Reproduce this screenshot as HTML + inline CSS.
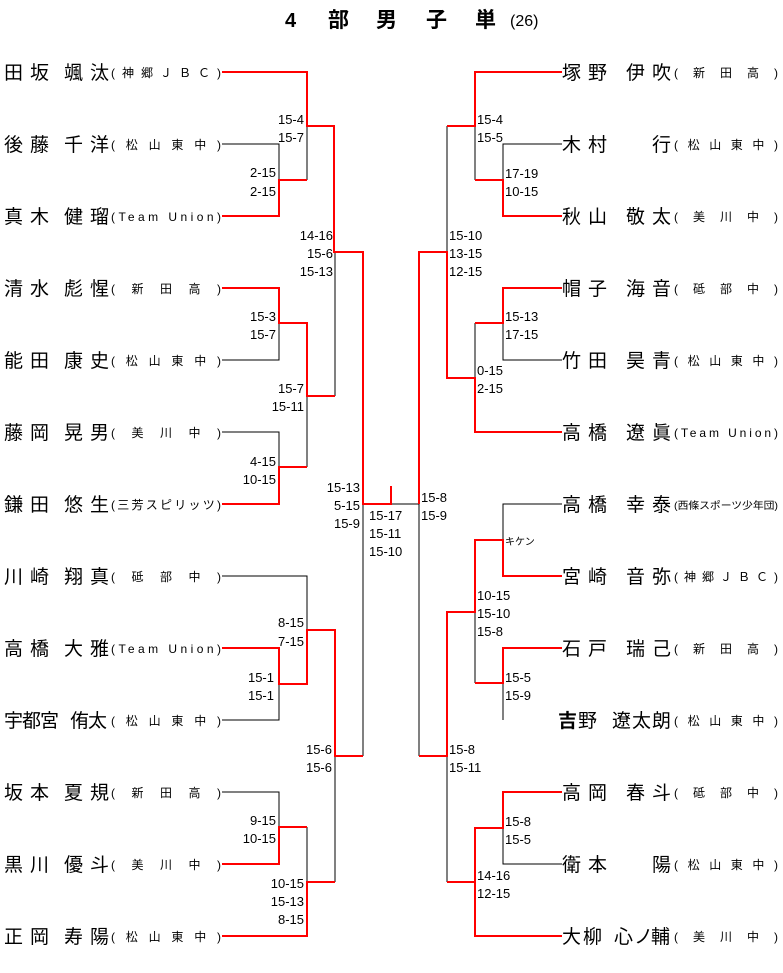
<!DOCTYPE html>
<html><head><meta charset="utf-8"><style>
html,body{margin:0;padding:0;background:#fff;}
svg{display:block;}
.n{font-family:"Liberation Sans","Noto Sans CJK JP",sans-serif;font-size:19px;fill:#000;}
.a{font-family:"Liberation Sans","Noto Sans CJK JP",sans-serif;font-size:12px;fill:#000;}
.s{font-family:"Liberation Sans","Noto Sans CJK JP",sans-serif;font-size:13px;fill:#000;}
.r{fill:none;stroke:#f00;stroke-width:2;}
.b{fill:none;stroke:#000;stroke-width:1;}
</style></head><body>
<svg width="783" height="973" viewBox="0 0 783 973" xmlns="http://www.w3.org/2000/svg">
<text x="285" y="27" style="font-family:'Liberation Sans','Noto Sans CJK JP',sans-serif;font-size:20px;font-weight:bold">4</text>
<text x="328" y="27" style="font-family:'Liberation Sans','Noto Sans CJK JP',sans-serif;font-size:21px;font-weight:bold">部</text>
<text x="376" y="27" style="font-family:'Liberation Sans','Noto Sans CJK JP',sans-serif;font-size:21px;font-weight:bold">男</text>
<text x="426" y="27" style="font-family:'Liberation Sans','Noto Sans CJK JP',sans-serif;font-size:21px;font-weight:bold">子</text>
<text x="475" y="27" style="font-family:'Liberation Sans','Noto Sans CJK JP',sans-serif;font-size:21px;font-weight:bold">単</text>
<text x="510" y="26" style="font-family:'Liberation Sans','Noto Sans CJK JP',sans-serif;font-size:16px">(26)</text>

<path class="b" d="M222,144H279V180M307,126V180M222,360H279V323M335,396V252M222,432H279V467M307,467V396"/>
<path class="b" d="M391,504H419M363,504V756M419,504V756"/>
<path class="b" d="M222,576H307V630M222,720H279V684M222,792H279V827M307,827V882M335,882V756"/>
<path class="r" d="M222,72H307V126H334V252H363V504H391V486"/>
<path class="r" d="M222,216H279V180H307"/>
<path class="r" d="M222,288H279V323H307V396H335"/>
<path class="r" d="M222,504H279V467H307"/>
<path class="r" d="M222,648H279V684H307V630H335V756H363"/>
<path class="r" d="M222,864H279V827H307"/>
<path class="r" d="M222,936H307V882H335"/>

<path class="b" d="M447,126V252M562,144H503V180M475,126V180M562,360H503V323M475,323V378"/>
<path class="b" d="M562,504H503V540M475,612V683M503,683V720M447,756V882M503,828V864H562"/>
<path class="r" d="M562,72H475V126H447"/>
<path class="r" d="M562,216H503V180H475"/>
<path class="r" d="M562,288H503V323H475"/>
<path class="r" d="M562,432H475V378H447V252H419V504"/>
<path class="r" d="M419,756H447V612H475V540H503V576H562"/>
<path class="r" d="M475,683H503V648H562"/>
<path class="r" d="M447,882H475V936H562"/>
<path class="r" d="M475,882V828H503V792H562"/>

<g class="s" text-anchor="end">
<text x="304" y="124">15-4</text><text x="304" y="142">15-7</text>
<text x="276" y="177">2-15</text><text x="276" y="196">2-15</text>
<text x="333" y="240">14-16</text><text x="333" y="258">15-6</text><text x="333" y="276">15-13</text>
<text x="276" y="321">15-3</text><text x="276" y="339">15-7</text>
<text x="304" y="393">15-7</text><text x="304" y="411">15-11</text>
<text x="276" y="466">4-15</text><text x="276" y="484">10-15</text>
<text x="360" y="492">15-13</text><text x="360" y="510">5-15</text><text x="360" y="528">15-9</text>
<text x="304" y="627">8-15</text><text x="304" y="646">7-15</text>
<text x="274" y="682">15-1</text><text x="274" y="700">15-1</text>
<text x="332" y="754">15-6</text><text x="332" y="772">15-6</text>
<text x="276" y="825">9-15</text><text x="276" y="843">10-15</text>
<text x="304" y="888">10-15</text><text x="304" y="906">15-13</text><text x="304" y="924">8-15</text>
</g>
<g class="s">
<text x="369" y="520">15-17</text><text x="369" y="538">15-11</text><text x="369" y="556">15-10</text>
<text x="421" y="502">15-8</text><text x="421" y="520">15-9</text>
<text x="477" y="124">15-4</text><text x="477" y="142">15-5</text>
<text x="505" y="178">17-19</text><text x="505" y="196">10-15</text>
<text x="449" y="240">15-10</text><text x="449" y="258">13-15</text><text x="449" y="276">12-15</text>
<text x="505" y="321">15-13</text><text x="505" y="339">17-15</text>
<text x="477" y="375">0-15</text><text x="477" y="393">2-15</text>
<text x="505" y="545" style="font-size:10px">キケン</text>
<text x="477" y="600">10-15</text><text x="477" y="618">15-10</text><text x="477" y="636">15-8</text>
<text x="505" y="682">15-5</text><text x="505" y="700">15-9</text>
<text x="449" y="754">15-8</text><text x="449" y="772">15-11</text>
<text x="505" y="826">15-8</text><text x="505" y="844">15-5</text>
<text x="477" y="880">14-16</text><text x="477" y="898">12-15</text>
</g>

<g class="n">
<text x="4 30 64 90" y="79">田坂颯汰</text>
<text x="4 30 64 90" y="151">後藤千洋</text>
<text x="4 30 64 90" y="223">真木健瑠</text>
<text x="4 30 64 90" y="295">清水彪惺</text>
<text x="4 30 64 90" y="367">能田康史</text>
<text x="4 30 64 90" y="439">藤岡晃男</text>
<text x="4 30 64 90" y="511">鎌田悠生</text>
<text x="4 30 64 90" y="583">川崎翔真</text>
<text x="4 30 64 90" y="655">高橋大雅</text>
<text x="4 22 40 70 88" y="727">宇都宮侑太</text>
<text x="4 30 64 90" y="799">坂本夏規</text>
<text x="4 30 64 90" y="871">黒川優斗</text>
<text x="4 30 64 90" y="943">正岡寿陽</text>
</g>
<g class="a">
<text x="111" y="77" textLength="110" lengthAdjust="spacing">(神郷ＪＢＣ)</text>
<text x="111" y="149" textLength="110" lengthAdjust="spacing">(松山東中)</text>
<text x="111" y="221" textLength="110" lengthAdjust="spacing">(Team Union)</text>
<text x="111" y="293" textLength="110" lengthAdjust="spacing">(新田高)</text>
<text x="111" y="365" textLength="110" lengthAdjust="spacing">(松山東中)</text>
<text x="111" y="437" textLength="110" lengthAdjust="spacing">(美川中)</text>
<text x="111" y="509" textLength="110" lengthAdjust="spacing">(三芳スピリッツ)</text>
<text x="111" y="581" textLength="110" lengthAdjust="spacing">(砥部中)</text>
<text x="111" y="653" textLength="110" lengthAdjust="spacing">(Team Union)</text>
<text x="111" y="725" textLength="110" lengthAdjust="spacing">(松山東中)</text>
<text x="111" y="797" textLength="110" lengthAdjust="spacing">(新田高)</text>
<text x="111" y="869" textLength="110" lengthAdjust="spacing">(美川中)</text>
<text x="111" y="941" textLength="110" lengthAdjust="spacing">(松山東中)</text>
</g>

<g class="n">
<text x="562 588 626 652" y="79">塚野伊吹</text>
<text x="562 588 652" y="151">木村行</text>
<text x="562 588 626 652" y="223">秋山敬太</text>
<text x="562 588 626 652" y="295">帽子海音</text>
<text x="562 588 626 652" y="367">竹田昊青</text>
<text x="562 588 626 652" y="439">高橋遼眞</text>
<text x="562 588 626 652" y="511">高橋幸泰</text>
<text x="562 588 626 652" y="583">宮崎音弥</text>
<text x="562 588 626 652" y="655">石戸瑞己</text>
<text x="558 578 612 632 652" y="727"><tspan font-weight="bold">吉</tspan>野遼太朗</text>
<text x="562 588 626 652" y="799">高岡春斗</text>
<text x="562 588 652" y="871">衛本陽</text>
<text x="562 583 614 634 651" y="943">大柳心ノ輔</text>
</g>
<g class="a">
<text x="674" y="77" textLength="104" lengthAdjust="spacing">(新田高)</text>
<text x="674" y="149" textLength="104" lengthAdjust="spacing">(松山東中)</text>
<text x="674" y="221" textLength="104" lengthAdjust="spacing">(美川中)</text>
<text x="674" y="293" textLength="104" lengthAdjust="spacing">(砥部中)</text>
<text x="674" y="365" textLength="104" lengthAdjust="spacing">(松山東中)</text>
<text x="674" y="437" textLength="104" lengthAdjust="spacing">(Team Union)</text>
<text x="674" y="509" textLength="104" lengthAdjust="spacingAndGlyphs" style="font-size:10px">(西條スポーツ少年団)</text>
<text x="674" y="581" textLength="104" lengthAdjust="spacing">(神郷ＪＢＣ)</text>
<text x="674" y="653" textLength="104" lengthAdjust="spacing">(新田高)</text>
<text x="674" y="725" textLength="104" lengthAdjust="spacing">(松山東中)</text>
<text x="674" y="797" textLength="104" lengthAdjust="spacing">(砥部中)</text>
<text x="674" y="869" textLength="104" lengthAdjust="spacing">(松山東中)</text>
<text x="674" y="941" textLength="104" lengthAdjust="spacing">(美川中)</text>
</g>
</svg>
</body></html>
